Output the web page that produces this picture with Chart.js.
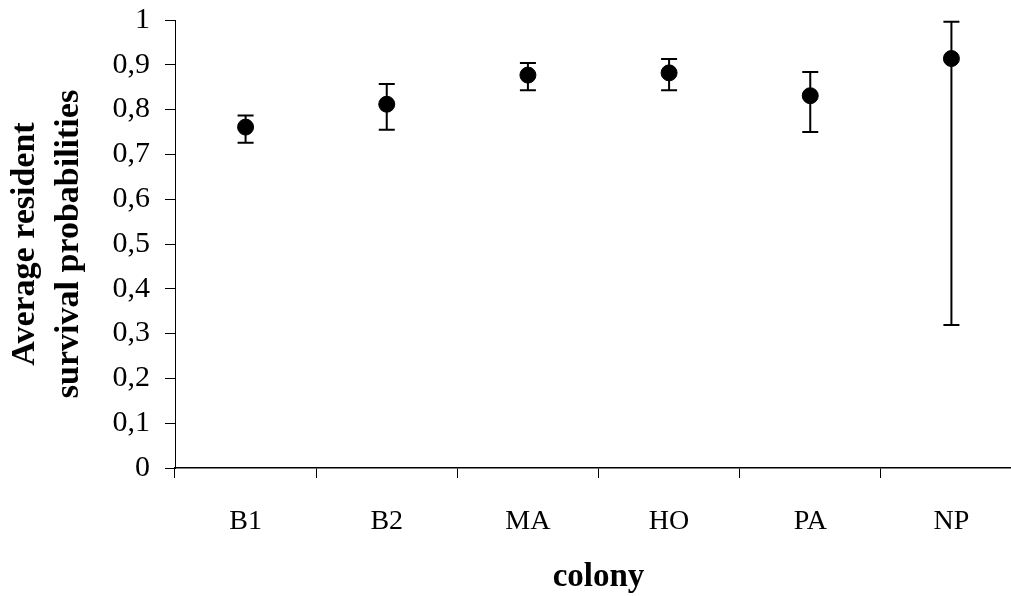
<!DOCTYPE html>
<html>
<head>
<meta charset="utf-8">
<script src="https://cdn.jsdelivr.net/npm/chart.js@4/dist/chart.umd.min.js"></script>
<style>
  html, body { margin: 0; padding: 0; background: #fff; overflow: hidden; }
  canvas { display: block; }
</style>
</head>
<body>
<canvas id="c" width="1011" height="596"></canvas>
<script>
const categories = ['B1', 'B2', 'MA', 'HO', 'PA', 'NP'];
const means = [0.761, 0.812, 0.877, 0.882, 0.831, 0.914];
const lowerBounds = [0.726, 0.755, 0.843, 0.843, 0.750, 0.319];
const upperBounds = [0.787, 0.857, 0.904, 0.913, 0.884, 0.996];
const yTickLabels = ['0', '0,1', '0,2', '0,3', '0,4', '0,5', '0,6', '0,7', '0,8', '0,9', '1'];
const yTitle = ['Average resident', 'survival probabilities'];
const xTitle = 'colony';

const FONT = "'Liberation Serif', 'Times New Roman', serif";
const X_AXIS_RIGHT = 1022; // the plot runs slightly past the picture's right edge

const errorBars = {
  id: 'errorBars',
  beforeDatasetsDraw(chart) {
    const ctx = chart.ctx;
    const xs = chart.scales.x, ys = chart.scales.y;
    ctx.save();
    ctx.strokeStyle = '#000';
    ctx.lineWidth = 2;
    for (let i = 0; i < categories.length; i++) {
      const x = xs.getPixelForValue(i);
      const yl = ys.getPixelForValue(lowerBounds[i]);
      const yu = ys.getPixelForValue(upperBounds[i]);
      const cap = 8;
      ctx.beginPath();
      ctx.moveTo(x, yl); ctx.lineTo(x, yu);
      ctx.moveTo(x - cap, yl); ctx.lineTo(x + cap, yl);
      ctx.moveTo(x - cap, yu); ctx.lineTo(x + cap, yu);
      ctx.stroke();
    }
    ctx.restore();
  }
};

const extendRight = {
  id: 'extendRight',
  afterLayout(chart) {
    const xs = chart.scales.x;
    xs.right = X_AXIS_RIGHT;
    xs.width = xs.right - xs.left;
    xs.configure();
    chart.chartArea.right = X_AXIS_RIGHT;
    chart.chartArea.width = chart.chartArea.right - chart.chartArea.left;
  }
};

new Chart(document.getElementById('c'), {
  type: 'line',
  data: {
    labels: categories,
    datasets: [{
      data: means,
      showLine: false,
      pointRadius: 8,
      pointHoverRadius: 8,
      pointBackgroundColor: '#000',
      pointBorderColor: '#000',
      pointBorderWidth: 1
    }]
  },
  options: {
    responsive: false,
    animation: false,
    events: [],
    layout: { padding: { top: 20, right: 0, left: 0, bottom: 0 } },
    plugins: { legend: { display: false }, tooltip: { enabled: false } },
    scales: {
      x: {
        type: 'category',
        offset: true,
        grid: { offset: true, drawOnChartArea: false, drawTicks: true, tickLength: 10, color: '#000', lineWidth: 1 },
        border: { display: true, color: '#000', width: 1.5 },
        ticks: { color: '#000', font: { family: FONT, size: 28 }, padding: 27, maxRotation: 0 },
        title: { display: true, text: xTitle, color: '#000', font: { family: FONT, size: 33, weight: 'bold', lineHeight: 1.1 }, padding: { top: 0, bottom: 0 } },
        afterFit(scale) { scale.height = 128; scale.paddingLeft = 0; scale.paddingRight = 0; }
      },
      y: {
        min: 0, max: 1,
        grid: { drawOnChartArea: false, drawTicks: true, tickLength: 10, color: '#000', lineWidth: 1 },
        border: { display: true, color: '#000', width: 1 },
        ticks: {
          stepSize: 0.1, color: '#000', font: { family: FONT, size: 30 }, padding: 15,
          callback: (v, i) => yTickLabels[i]
        },
        title: { display: true, text: yTitle, color: '#000', font: { family: FONT, size: 34, weight: 'bold', lineHeight: 1.3 }, padding: { top: 3, bottom: 0 } },
        afterFit(scale) { scale.width = 175; scale.paddingTop = 0; scale.paddingBottom = 0; }
      }
    }
  },
  plugins: [errorBars, extendRight]
});
</script>
</body>
</html>
